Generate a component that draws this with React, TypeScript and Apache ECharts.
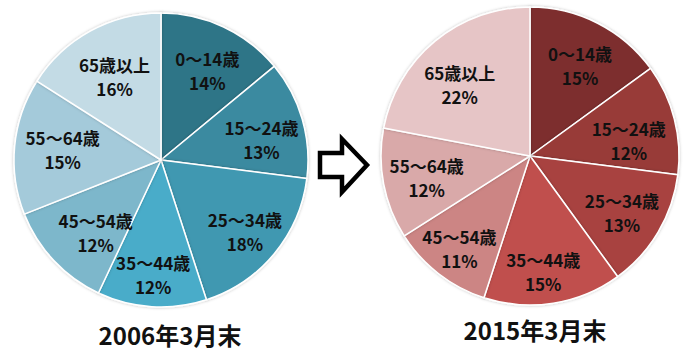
import React, { useEffect, useRef } from "react";
import * as echarts from "echarts";

const categories = ["0～14歳", "15～24歳", "25～34歳", "35～44歳", "45～54歳", "55～64歳", "65歳以上"];
const values2006 = [14, 13, 18, 12, 12, 15, 16];
const values2015 = [15, 12, 13, 15, 11, 12, 22];
const titles = ["2006年3月末", "2015年3月末"];

const blues = ["#2f7487", "#3a8aa0", "#3f98b1", "#49acc9", "#7db7cb", "#a4cada", "#c3dbe5"];
const reds = ["#7d2f2f", "#983b39", "#a8423f", "#c0504d", "#cc8584", "#d9a9a9", "#e6c5c6"];

// label nudges (style only, px)
const nudgeLeft: [number, number][] = [[0, 9], [-4, 10], [0, 2], [-1, 6], [14, -2], [10, 0], [6, 12]];
const nudgeRight: [number, number][] = [[0, 8], [-8, 12], [-3, 0], [-4, 7], [-3, 5], [5, 1], [0, 13]];

const FONT = "'Noto Sans CJK JP', 'Noto Sans', sans-serif";

function pieSeries(
  values: number[],
  colors: string[],
  center: [number, number],
  r: number,
  nudge: [number, number][]
) {
  const labelRatio = 0.72;
  return [
    {
      type: "pie",
      center,
      radius: [0, r],
      startAngle: 90,
      clockwise: true,
      silent: true,
      label: { show: false },
      labelLine: { show: false },
      itemStyle: {
        color: (p: any) => colors[p.dataIndex],
        borderColor: "#ffffff",
        borderWidth: 1.5,
        shadowBlur: 3,
        shadowColor: "rgba(0,0,0,0.25)",
      },
      data: categories.map((name, i) => ({ name, value: values[i] })),
    },
    {
      type: "pie",
      center,
      radius: [0, r * labelRatio * 2],
      startAngle: 90,
      clockwise: true,
      silent: true,
      avoidLabelOverlap: false,
      labelLayout: { hideOverlap: false },
      z: 5,
      itemStyle: { color: "rgba(0,0,0,0)", borderWidth: 0 },
      labelLine: { show: false },
      label: {
        show: true,
        position: "inside",
        formatter: "{b}\n{c}%",
        color: "#111111",
        fontFamily: FONT,
        fontWeight: "bold",
        fontSize: 17,
        lineHeight: 24,
        align: "center",
      },
      data: categories.map((name, i) => ({
        name,
        value: values[i],
        label: { offset: nudge[i] },
      })),
    },
  ];
}

export default function App() {
  const ref = useRef<HTMLDivElement>(null);
  useEffect(() => {
    if (!ref.current) return;
    const chart = echarts.init(ref.current, undefined, { renderer: "svg" });
    chart.setOption({
      animation: false,
      backgroundColor: "#ffffff",
      title: [
        {
          text: titles[0],
          left: 165,
          top: 317,
          textAlign: "center",
          textStyle: { fontFamily: FONT, fontWeight: "bold", fontSize: 24, color: "#111111" },
        },
        {
          text: titles[1],
          left: 530,
          top: 312,
          textAlign: "center",
          textStyle: { fontFamily: FONT, fontWeight: "bold", fontSize: 24, color: "#111111" },
        },
      ],
      graphic: [
        {
          type: "polygon",
          shape: {
            points: [
              [320, 153],
              [342, 153],
              [342, 139],
              [367, 165],
              [342, 192],
              [342, 177],
              [320, 177],
            ],
          },
          style: { fill: "#ffffff", stroke: "#000000", lineWidth: 4.5, lineJoin: "miter" },
        },
      ],
      series: [
        ...pieSeries(values2006, blues, [161, 160], 147, nudgeLeft),
        ...pieSeries(values2015, reds, [530, 156], 149, nudgeRight),
      ],
    });
    return () => chart.dispose();
  }, []);
  return (
    <div
      ref={ref}
      style={{ position: "fixed", left: 0, top: 0, width: 688, height: 354, background: "#fff" }}
    />
  );
}
